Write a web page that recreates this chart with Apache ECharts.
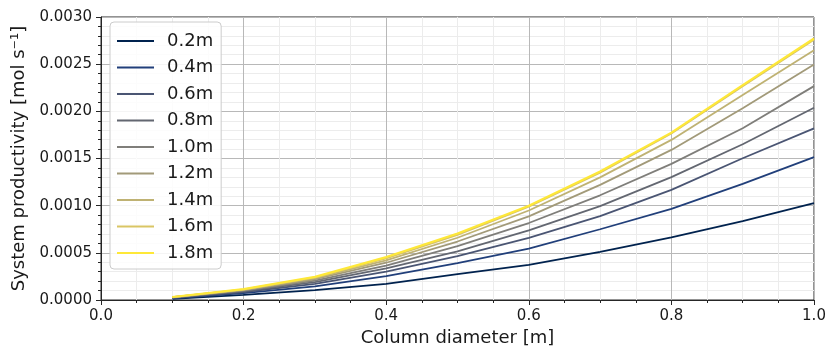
<!DOCTYPE html>
<html>
<head>
<meta charset="utf-8">
<script src="https://cdn.jsdelivr.net/npm/echarts@6/dist/echarts.min.js"></script>
<style>
  html, body { margin: 0; padding: 0; background: #ffffff; }
  #chart { width: 825px; height: 349px; }
</style>
</head>
<body>
<div id="chart"></div>
<script>
// Column diameter [m]
const diameters = [0.1, 0.2, 0.3, 0.4, 0.5, 0.6, 0.7, 0.8, 0.9, 1.0];

// Column heights shown in the legend
const heightLabels = ['0.2m', '0.4m', '0.6m', '0.8m', '1.0m', '1.2m', '1.4m', '1.6m', '1.8m'];

// System productivity [mol/s] for each column height
const prod02 = [0.000012, 0.000055, 0.000105, 0.000170, 0.000275, 0.000372, 0.000510, 0.000664, 0.000837, 0.001027];
const prod04 = [0.000018, 0.000072, 0.000145, 0.000252, 0.000390, 0.000545, 0.000750, 0.000967, 0.001231, 0.001514];
const prod06 = [0.000022, 0.000085, 0.000170, 0.000300, 0.000465, 0.000658, 0.000890, 0.001168, 0.001503, 0.001820];
const prod08 = [0.000025, 0.000093, 0.000190, 0.000335, 0.000515, 0.000738, 0.000995, 0.001302, 0.001651, 0.002038];
const prod10 = [0.000027, 0.000100, 0.000205, 0.000365, 0.000570, 0.000816, 0.001110, 0.001443, 0.001820, 0.002267];
const prod12 = [0.000029, 0.000105, 0.000220, 0.000395, 0.000620, 0.000886, 0.001220, 0.001591, 0.002032, 0.002497];
const prod14 = [0.000030, 0.000110, 0.000232, 0.000420, 0.000660, 0.000949, 0.001300, 0.001697, 0.002172, 0.002648];
const prod16 = [0.000031, 0.000113, 0.000240, 0.000440, 0.000690, 0.000990, 0.001350, 0.001765, 0.002265, 0.002759];
const prod18 = [0.000032, 0.000115, 0.000245, 0.000455, 0.000705, 0.000999, 0.001362, 0.001774, 0.002278, 0.002772];

// Axis ticks
const xTicks = [0.0, 0.2, 0.4, 0.6, 0.8, 1.0];
const yTicks = [0.0000, 0.0005, 0.0010, 0.0015, 0.0020, 0.0025, 0.0030];

const allSeries = [prod02, prod04, prod06, prod08, prod10, prod12, prod14, prod16, prod18];

// cividis-like palette, dark blue to yellow
const palette = ['#00224e', '#213f7a', '#4a5573', '#636771', '#7f7e7a', '#a29a79', '#bfb273', '#d9c564', '#fee838'];

const font = 'DejaVu Sans, sans-serif';

const chart = echarts.init(document.getElementById('chart'), null, { renderer: 'canvas' });

const option = {
  animation: false,
  backgroundColor: '#ffffff',
  color: palette,
  grid: {
    left: 101, right: 11, top: 17, bottom: 49,
    outerBoundsMode: 'none',
    containLabel: false,
    show: true, borderColor: '#262626', borderWidth: 1, backgroundColor: 'transparent'
  },
  legend: {
    orient: 'vertical',
    left: 110, top: 22,
    data: heightLabels,
    icon: 'rect',
    itemWidth: 37, itemHeight: 2,
    itemGap: 6.5,
    padding: [9, 8, 6, 7],
    backgroundColor: 'rgba(255,255,255,0.85)',
    borderColor: '#cccccc', borderWidth: 1, borderRadius: 4,
    textStyle: { fontFamily: font, fontSize: 18, color: '#1a1a1a', lineHeight: 20, padding: [0, 0, 0, 8] }
  },
  xAxis: {
    type: 'value',
    min: xTicks[0], max: xTicks[xTicks.length - 1], interval: 0.2,
    name: 'Column diameter [m]',
    nameLocation: 'middle', nameGap: 28,
    nameTextStyle: { fontFamily: font, fontSize: 18, color: '#1a1a1a' },
    axisLine: { show: true, onZero: false, lineStyle: { color: '#262626', width: 1 } },
    axisTick: { show: true, length: 5, lineStyle: { color: '#262626' } },
    minorTick: { show: true, splitNumber: 4, length: 3, lineStyle: { color: '#262626' } },
    axisLabel: { fontFamily: font, fontSize: 15, color: '#1a1a1a', margin: 9,
      formatter: v => v.toFixed(1) },
    splitLine: { show: true, lineStyle: { color: '#b8b8b8', width: 1 } },
    minorSplitLine: { show: true, lineStyle: { color: '#ececec', width: 1 } }
  },
  yAxis: {
    type: 'value',
    min: yTicks[0], max: yTicks[yTicks.length - 1], interval: 0.0005,
    name: 'System productivity [mol s\u207B\u00B9]',
    nameLocation: 'middle', nameGap: 71,
    nameTextStyle: { fontFamily: font, fontSize: 18, color: '#1a1a1a' },
    axisLine: { show: true, onZero: false, lineStyle: { color: '#262626', width: 1 } },
    axisTick: { show: true, length: 5, lineStyle: { color: '#262626' } },
    minorTick: { show: true, splitNumber: 5, length: 3, lineStyle: { color: '#262626' } },
    axisLabel: { fontFamily: font, fontSize: 15, color: '#1a1a1a', margin: 9,
      formatter: v => v.toFixed(4) },
    splitLine: { show: true, lineStyle: { color: '#b8b8b8', width: 1 } },
    minorSplitLine: { show: true, lineStyle: { color: '#ececec', width: 1 } }
  },
  series: allSeries.map((vals, i) => ({
    name: heightLabels[i],
    type: 'line',
    data: diameters.map((d, j) => [d, vals[j]]),
    showSymbol: false,
    symbol: 'none',
    lineStyle: { width: i === allSeries.length - 1 ? 2.2 : 1.8, color: palette[i] },
    itemStyle: { color: palette[i] },
    z: 2 + i
  }))
};

chart.setOption(option);
</script>
</body>
</html>
